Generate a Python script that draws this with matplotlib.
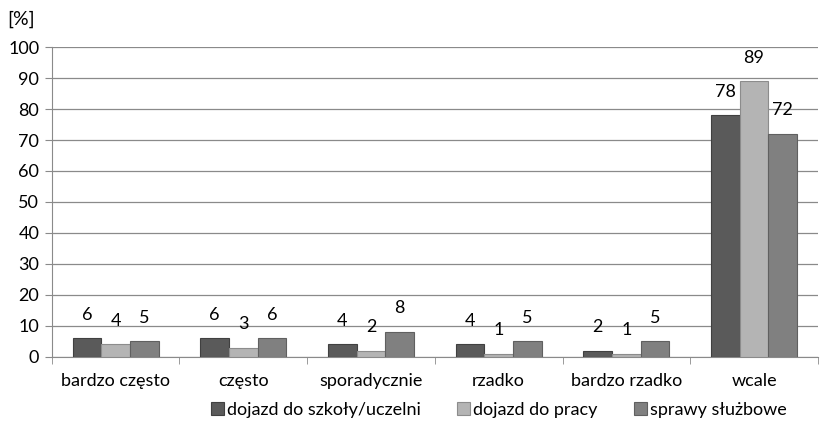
import matplotlib.pyplot as plt
import numpy as np

plt.rcParams['font.family'] = ['Lato', 'DejaVu Sans']

categories = ['bardzo często', 'często', 'sporadycznie', 'rzadko', 'bardzo rzadko', 'wcale']
series_names = ['dojazd do szkoły/uczelni', 'dojazd do pracy', 'sprawy służbowe']
szkola = [6, 6, 4, 4, 2, 78]
praca = [4, 3, 2, 1, 1, 89]
sluzbowe = [5, 6, 8, 5, 5, 72]

colors = ['#5a5a5a', '#b4b4b4', '#808080']
edges = ['#404040', '#8c8c8c', '#606060']
fs = 13

fig = plt.figure(figsize=(8.22, 4.32), dpi=100)
ax = fig.add_axes([0.063, 0.174, 0.932, 0.717])

x = np.arange(len(categories))
w = 0.224
for i, (vals, name) in enumerate(zip([szkola, praca, sluzbowe], series_names)):
    pos = x + (i - 1) * w
    ax.bar(pos, vals, width=w, color=colors[i], edgecolor=edges[i], linewidth=0.8,
           label=name, zorder=3)
    for p, v in zip(pos, vals):
        ax.annotate(str(v), (p, v), xytext=(0, 17), textcoords='offset points',
                    ha='center', va='center', fontsize=fs, color='black')

ax.set_xlim(-0.5, len(categories) - 0.5)
ax.set_ylim(0, 100)
ax.set_yticks(range(0, 101, 10))
ax.yaxis.grid(True, color='#8a8a8a', linewidth=0.9, zorder=0)
ax.set_xticks(x)
ax.set_xticklabels(categories)
ax.set_xticks(np.arange(-0.5, len(categories), 1), minor=True)
ax.tick_params(axis='x', which='major', length=0, pad=12, labelsize=fs)
ax.tick_params(axis='x', which='minor', length=5, color='#8a8a8a')
ax.tick_params(axis='y', length=5, color='#8a8a8a', labelsize=fs, pad=4)

for s in ['top', 'right']:
    ax.spines[s].set_visible(False)
ax.spines['left'].set_color('#8a8a8a')
ax.spines['bottom'].set_color('#8a8a8a')

fig.text(0.009, 0.955, '[%]', fontsize=fs + 1, ha='left', va='center')

fig.legend(loc='center', bbox_to_anchor=(0.607, 0.051), ncol=3, frameon=False,
           fontsize=fs, handlelength=0.7, handleheight=0.7, handletextpad=0.2,
           columnspacing=2.0)

fig.savefig('out.png', dpi=100)
